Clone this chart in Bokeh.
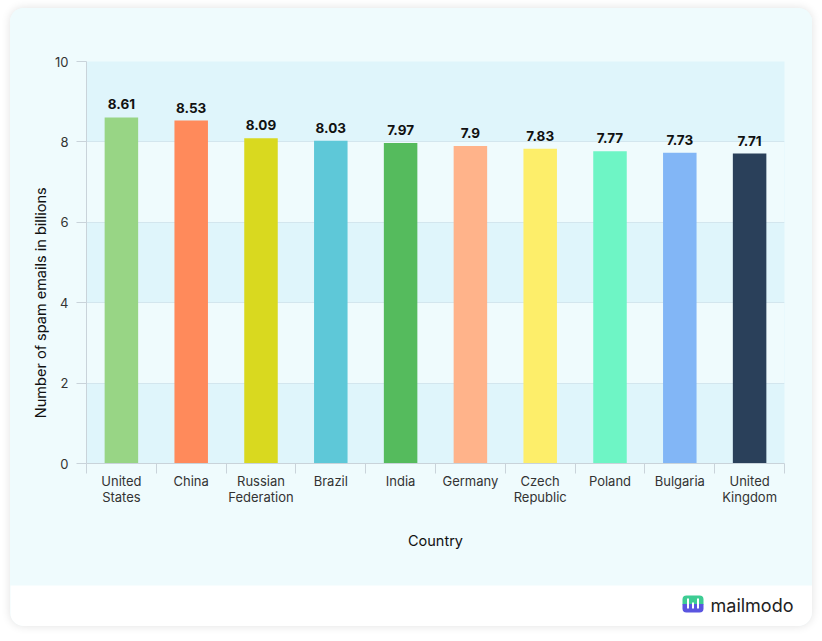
import math
from bokeh.plotting import figure
from bokeh.models import FixedTicker, Range1d, ColumnDataSource, Label
from bokeh.layouts import column, row
from bokeh.core.properties import value
from bokeh.embed import file_html
from bokeh.resources import INLINE

countries = ["United States", "China", "Russian Federation", "Brazil", "India",
             "Germany", "Czech Republic", "Poland", "Bulgaria", "United Kingdom"]
tick_labels = ["United\nStates", "China", "Russian\nFederation", "Brazil", "India",
               "Germany", "Czech\nRepublic", "Poland", "Bulgaria", "United\nKingdom"]
spam_billions = [8.61, 8.53, 8.09, 8.03, 7.97, 7.9, 7.83, 7.77, 7.73, 7.71]
colors = ["#98d585", "#ff8a5b", "#d9d91f", "#5ec8d8", "#55bb5d",
          "#ffb38a", "#fdee6a", "#6ef5c5", "#82b6f6", "#2a405a"]
y_ticks = [0, 2, 4, 6, 8, 10]

CARD = "#effbfd"
BAND = "#dff5fb"
FONT = "Inter"

xs = list(range(len(countries)))
src = ColumnDataSource(dict(x=xs, top=spam_billions, color=colors,
                            label=[str(v) for v in spam_billions]))

# left strip holding the y-axis title (frame is aligned with the main plot's frame)
lab = figure(width=40, height=577, output_backend="svg", toolbar_location=None,
             x_range=Range1d(0, 40), y_range=Range1d(0, 10), min_border=0,
             x_axis_location=None, y_axis_location=None)
lab.grid.visible = False
lab.outline_line_color = None
lab.background_fill_color = CARD
lab.border_fill_color = CARD
lab.add_layout(Label(x=30, y=4.0, text="Number of spam emails in billions",
                     angle=math.pi / 2, text_align="center", text_baseline="middle",
                     text_font=FONT, text_font_size="14.5px", text_color="#111111"))

p = figure(width=762, height=577, output_backend="svg", toolbar_location=None,
           x_range=Range1d(-0.5, len(countries) - 0.5), y_range=Range1d(0, 10),
           min_border_left=36, min_border_right=28, min_border_top=53, min_border_bottom=122)
p.border_fill_color = CARD
p.background_fill_color = BAND
p.outline_line_color = None

p.vbar(x="x", top="top", width=0.48, color="color", line_color=None, source=src)
p.text(x="x", y="top", text="label", source=src, text_align="center",
       text_baseline="bottom", y_offset=-8, text_font=value(FONT),
       text_font_style="bold", text_font_size="13.5px", text_color="#111111")

# y axis
p.yaxis.ticker = FixedTicker(ticks=y_ticks)
p.yaxis.axis_line_color = "#c9d3da"
p.yaxis.major_tick_line_color = "#c9d3da"
p.yaxis.major_tick_out = 10
p.yaxis.major_tick_in = 0
p.yaxis.minor_tick_line_color = None
p.yaxis.major_label_text_font = FONT
p.yaxis.major_label_text_font_size = "13px"
p.yaxis.major_label_text_color = "#333333"
p.yaxis.major_label_standoff = 8

# x axis
p.xaxis.ticker = FixedTicker(ticks=xs, minor_ticks=[i - 0.5 for i in range(len(countries) + 1)])
p.xaxis.major_label_overrides = {i: t for i, t in enumerate(tick_labels)}
p.xaxis.axis_line_color = "#c9d3da"
p.xaxis.major_tick_line_color = None
p.xaxis.major_tick_out = 0
p.xaxis.minor_tick_line_color = "#c9d3da"
p.xaxis.minor_tick_out = 10
p.xaxis.minor_tick_in = 0
p.xaxis.major_label_text_font = FONT
p.xaxis.major_label_text_font_size = "13px"
p.xaxis.major_label_text_color = "#333333"
p.xaxis.major_label_text_line_height = 1.0
p.xaxis.major_label_standoff = -1
p.xaxis.axis_label = "Country"
p.xaxis.axis_label_text_font = FONT
p.xaxis.axis_label_text_font_style = "normal"
p.xaxis.axis_label_text_font_size = "14.5px"
p.xaxis.axis_label_text_color = "#111111"
p.xaxis.axis_label_standoff = 24

p.xgrid.grid_line_color = None
p.ygrid.ticker = FixedTicker(ticks=y_ticks)
p.ygrid.grid_line_color = "#d3e6ee"
p.ygrid.band_fill_color = CARD
p.ygrid.band_fill_alpha = 1.0

# footer with brand
f = figure(width=802, height=41, output_backend="svg", toolbar_location=None,
           x_range=Range1d(0, 802), y_range=Range1d(0, 41), min_border=0,
           x_axis_location=None, y_axis_location=None)
f.grid.visible = False
f.outline_line_color = None
f.background_fill_color = "white"
f.border_fill_color = "white"
f.quad(left=[672], right=[693], bottom=[22], top=[31], color="#3dcc93", line_color=None,
       border_radius=(4, 4, 0, 0))
f.quad(left=[672], right=[693], bottom=[14], top=[22.5], color="#5a55e0", line_color=None,
       border_radius=(0, 0, 4, 4))
f.quad(left=[676.5, 681.5, 686.5], right=[678.5, 683.5, 688.5], bottom=[18, 18, 18],
       top=[28, 24, 28], color="white", line_color=None)
f.add_layout(Label(x=700, y=21, text="mailmodo", text_font=FONT, text_font_size="18px",
                   text_color="#222222", text_baseline="middle"))

top_row = row(lab, p, spacing=0, styles={"background": CARD})
layout = column(top_row, f, spacing=0, margin=(8, 10, 15, 10),
                styles={"border-radius": "14px", "overflow": "hidden", "background": CARD,
                        "box-shadow": "0 0 10px rgba(0,0,0,0.12)"})

open("out.html", "w").write(file_html(layout, INLINE))
